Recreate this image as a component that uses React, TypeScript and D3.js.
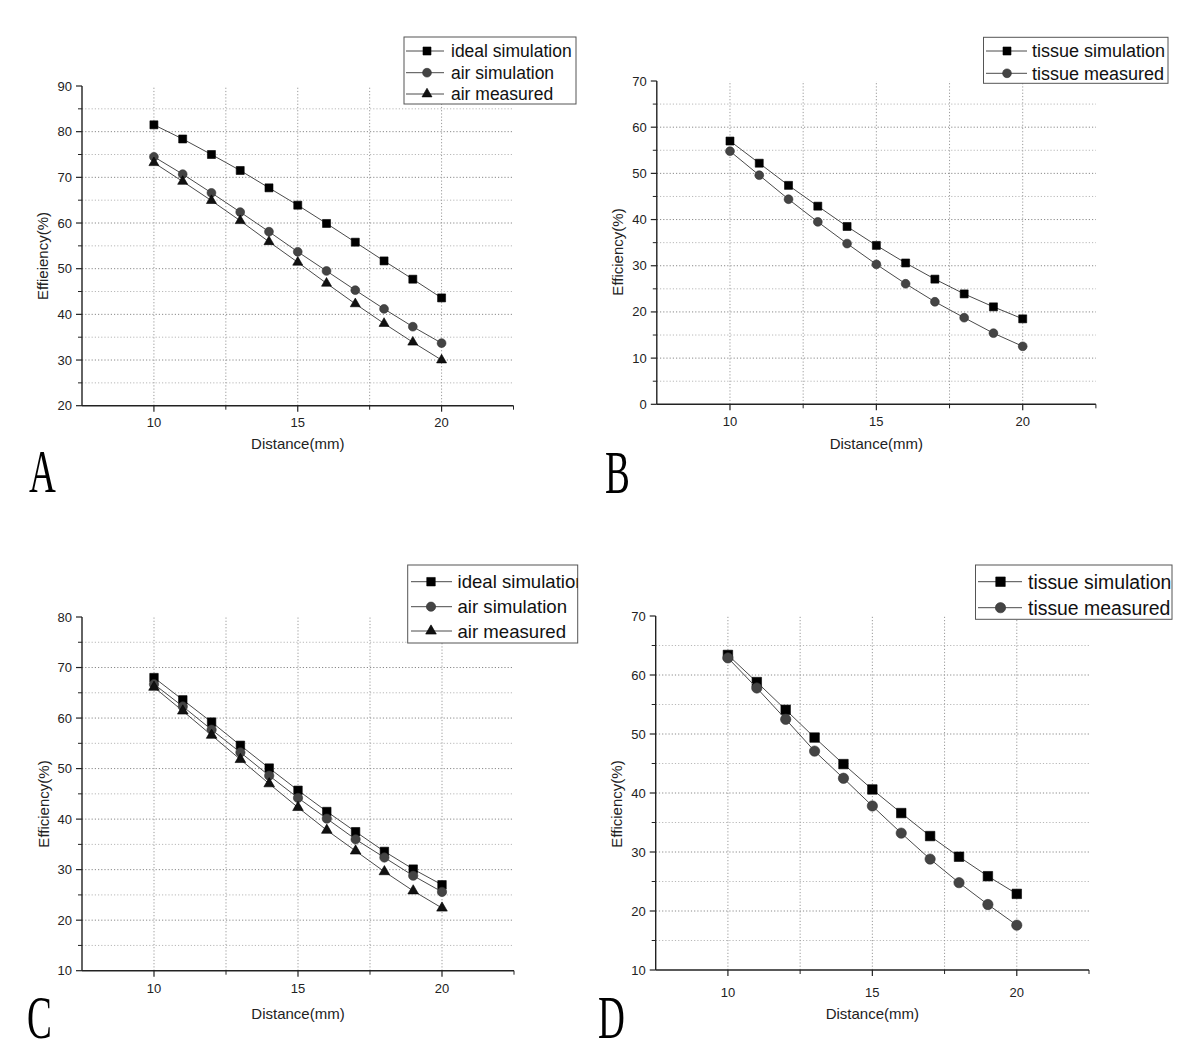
import React from "react";
import * as d3 from "d3";

const distance = [10, 11, 12, 13, 14, 15, 16, 17, 18, 19, 20];

const aIdealSim = [81.5, 78.4, 75.0, 71.5, 67.7, 63.9, 59.9, 55.8, 51.7, 47.7, 43.6];
const aAirSim = [74.5, 70.7, 66.6, 62.4, 58.1, 53.7, 49.5, 45.3, 41.2, 37.3, 33.7];
const aAirMeas = [73.2, 69.1, 64.9, 60.5, 55.9, 51.4, 46.8, 42.3, 38.0, 33.9, 30.0];

const bTissueSim = [57.0, 52.2, 47.4, 42.9, 38.5, 34.4, 30.6, 27.1, 23.9, 21.1, 18.5];
const bTissueMeas = [54.8, 49.6, 44.4, 39.5, 34.8, 30.3, 26.1, 22.2, 18.75, 15.4, 12.55];

const cIdealSim = [68.0, 63.6, 59.2, 54.6, 50.1, 45.7, 41.5, 37.5, 33.6, 30.1, 27.0];
const cAirSim = [66.7, 62.3, 57.7, 53.2, 48.6, 44.2, 40.1, 36.0, 32.4, 28.8, 25.6];
const cAirMeas = [66.1, 61.4, 56.6, 51.8, 47.0, 42.3, 37.8, 33.7, 29.6, 25.8, 22.4];

const dTissueSim = [63.4, 58.8, 54.1, 49.4, 44.9, 40.6, 36.6, 32.7, 29.2, 25.9, 22.9];
const dTissueMeas = [62.9, 57.8, 52.5, 47.1, 42.5, 37.8, 33.2, 28.8, 24.8, 21.1, 17.6];

const xDomain = [7.5, 22.5];
const xMajorTicks = [10, 15, 20];
const xMinorTicks = [12.5, 17.5, 22.5];
const aYTicks = [20, 30, 40, 50, 60, 70, 80, 90];
const bYTicks = [0, 10, 20, 30, 40, 50, 60, 70];
const cYTicks = [10, 20, 30, 40, 50, 60, 70, 80];
const dYTicks = [10, 20, 30, 40, 50, 60, 70];

const xTitle = "Distance(mm)";

type Sym = "square" | "circle" | "triangle";
interface Series { name: string; values: number[]; sym: Sym }

const SYM_COLORS: Record<Sym, string> = { square: "#000", circle: "#444", triangle: "#111" };

const panels = [
  {
    id: "A",
    series: [
      { name: "ideal simulation", values: aIdealSim, sym: "square" },
      { name: "air simulation", values: aAirSim, sym: "circle" },
      { name: "air measured", values: aAirMeas, sym: "triangle" },
    ] as Series[],
    yTicks: aYTicks,
    yTitle: "Effieiency(%)",
    x0: 82, x1: 513.5, yTop: 86, yBot: 405.7,
    yTitleX: 43, yTitleY: 256, xTitleY: 449, xLabelY: 427,
    leg: { x: 404, y: 37, w: 172, h: 67, rows: [51, 72.7, 94], l0: 406, l1: 444, m: 427, t: 451, fs: 17.5 },
    mk: 8,
    letterX: 29, letterY: 492,
  },
  {
    id: "B",
    series: [
      { name: "tissue simulation", values: bTissueSim, sym: "square" },
      { name: "tissue measured", values: bTissueMeas, sym: "circle" },
    ] as Series[],
    yTicks: bYTicks,
    yTitle: "Efficiency(%)",
    x0: 656.8, x1: 1095.9, yTop: 81, yBot: 404.3,
    yTitleX: 618, yTitleY: 252, xTitleY: 449, xLabelY: 426,
    leg: { x: 983.5, y: 37.3, w: 184.5, h: 46, rows: [51, 73.3], l0: 986, l1: 1027, m: 1007, t: 1032, fs: 18 },
    mk: 8,
    letterX: 605, letterY: 493,
  },
  {
    id: "C",
    series: [
      { name: "ideal simulation", values: cIdealSim, sym: "square" },
      { name: "air simulation", values: cAirSim, sym: "circle" },
      { name: "air measured", values: cAirMeas, sym: "triangle" },
    ] as Series[],
    yTicks: cYTicks,
    yTitle: "Efficiency(%)",
    x0: 82, x1: 514, yTop: 617, yBot: 970.7,
    yTitleX: 44, yTitleY: 804, xTitleY: 1019, xLabelY: 993,
    leg: { x: 407.7, y: 565, w: 170, h: 78, rows: [581.7, 606.7, 631], l0: 411, l1: 452, m: 431, t: 457.5, fs: 18.6 },
    mk: 8.5,
    letterX: 27, letterY: 1038,
  },
  {
    id: "D",
    series: [
      { name: "tissue simulation", values: dTissueSim, sym: "square" },
      { name: "tissue measured", values: dTissueMeas, sym: "circle" },
    ] as Series[],
    yTicks: dYTicks,
    yTitle: "Efficiency(%)",
    x0: 655.7, x1: 1089, yTop: 616, yBot: 970,
    yTitleX: 617, yTitleY: 804, xTitleY: 1019, xLabelY: 997,
    leg: { x: 975.5, y: 565, w: 196.5, h: 54.3, rows: [581.7, 607.7], l0: 978, l1: 1022, m: 1000.5, t: 1028, fs: 19.4 },
    mk: 9.5,
    letterX: 598, letterY: 1038,
  },
];

function symPath(sym: Sym, s: number): string {
  if (sym === "square") return d3.symbol().type(d3.symbolSquare).size(s * s)() as string;
  if (sym === "circle") return d3.symbol().type(d3.symbolCircle).size(Math.PI * (s / 2 + 0.4) * (s / 2 + 0.4))() as string;
  const a = s * 1.25;
  return d3.symbol().type(d3.symbolTriangle).size((Math.sqrt(3) / 4) * a * a)() as string;
}

const FONT = "'Liberation Sans', Arial, Helvetica, sans-serif";

function Panel({ p }: { p: (typeof panels)[number] }) {
  const x = d3.scaleLinear().domain(xDomain).range([p.x0, p.x1]);
  const yMin = p.yTicks[0];
  const yMax = p.yTicks[p.yTicks.length - 1];
  const y = d3.scaleLinear().domain([yMin, yMax]).range([p.yBot, p.yTop]);
  const yMinor = d3.range(yMin + 5, yMax, 10);
  const hGrid = d3.range(yMin + 5, yMax, 5);
  const vGrid = [10, 12.5, 15, 17.5, 20];
  const line = d3
    .line<number>()
    .x((_, i) => x(distance[i]))
    .y((v) => y(v));
  const clipId = `legclip-${p.id}`;
  return (
    <g>
      {/* grid */}
      {hGrid.map((v) => (
        <line
          key={`h${v}`}
          x1={p.x0}
          x2={p.x1}
          y1={y(v)}
          y2={y(v)}
          stroke={v % 10 === 0 ? "#8a8a8a" : "#b8b8b8"}
          strokeWidth={1}
          strokeDasharray="1.2,2"
        />
      ))}
      {vGrid.map((v) => (
        <line
          key={`v${v}`}
          x1={x(v)}
          x2={x(v)}
          y1={p.yBot}
          y2={p.yTop}
          stroke="#9a9a9a"
          strokeWidth={1}
          strokeDasharray="1.2,2"
        />
      ))}
      {/* axes */}
      <line x1={p.x0} x2={p.x0} y1={p.yBot} y2={p.yTop} stroke="#222" strokeWidth={1.4} />
      <line x1={p.x0} x2={p.x1} y1={p.yBot} y2={p.yBot} stroke="#222" strokeWidth={1.4} />
      {p.yTicks.map((v) => (
        <g key={`yt${v}`}>
          <line x1={p.x0 - 6} x2={p.x0} y1={y(v)} y2={y(v)} stroke="#222" strokeWidth={1.2} />
          <text
            x={p.x0 - 10}
            y={y(v) + 4.5}
            textAnchor="end"
            fontFamily={FONT}
            fontSize={13}
            fill="#222"
          >
            {v}
          </text>
        </g>
      ))}
      {yMinor.map((v) => (
        <line key={`ym${v}`} x1={p.x0 - 4} x2={p.x0} y1={y(v)} y2={y(v)} stroke="#222" strokeWidth={1} />
      ))}
      {xMajorTicks.map((v) => (
        <g key={`xt${v}`}>
          <line x1={x(v)} x2={x(v)} y1={p.yBot} y2={p.yBot + 6} stroke="#222" strokeWidth={1.2} />
          <text x={x(v)} y={p.xLabelY} textAnchor="middle" fontFamily={FONT} fontSize={13} fill="#222">
            {v}
          </text>
        </g>
      ))}
      {xMinorTicks.map((v) => (
        <line key={`xm${v}`} x1={x(v)} x2={x(v)} y1={p.yBot} y2={p.yBot + 4} stroke="#222" strokeWidth={1} />
      ))}
      {/* titles */}
      <text
        x={(p.x0 + p.x1) / 2 + (x(15) - (p.x0 + p.x1) / 2)}
        y={p.xTitleY}
        textAnchor="middle"
        fontFamily={FONT}
        fontSize={15}
        fill="#222"
      >
        {xTitle}
      </text>
      <text
        transform={`translate(${p.yTitleX + 5},${p.yTitleY}) rotate(-90)`}
        textAnchor="middle"
        fontFamily={FONT}
        fontSize={15}
        fill="#222"
      >
        {p.yTitle}
      </text>
      {/* series */}
      {p.series.map((s) => (
        <g key={s.name}>
          <path d={line(s.values) as string} fill="none" stroke="#4a4a4a" strokeWidth={1} />
          {s.values.map((v, i) => (
            <path
              key={i}
              d={symPath(s.sym, p.mk)}
              transform={`translate(${x(distance[i])},${y(v)})`}
              fill={SYM_COLORS[s.sym]}
              stroke={s.sym === "circle" ? "#333" : "#000"}
              strokeWidth={0.6}
            />
          ))}
        </g>
      ))}
      {/* legend */}
      <clipPath id={clipId}>
        <rect x={p.leg.x} y={p.leg.y - 2} width={p.leg.w} height={p.leg.h + 4} />
      </clipPath>
      <rect
        x={p.leg.x}
        y={p.leg.y}
        width={p.leg.w}
        height={p.leg.h}
        fill="#fff"
        stroke="#555"
        strokeWidth={1}
      />
      <g clipPath={`url(#${clipId})`}>
        {p.series.map((s, i) => (
          <g key={`leg${s.name}`}>
            <line
              x1={p.leg.l0}
              x2={p.leg.l1}
              y1={p.leg.rows[i]}
              y2={p.leg.rows[i]}
              stroke="#4a4a4a"
              strokeWidth={1}
            />
            <path
              d={symPath(s.sym, p.mk)}
              transform={`translate(${p.leg.m},${p.leg.rows[i]})`}
              fill={SYM_COLORS[s.sym]}
              stroke={s.sym === "circle" ? "#333" : "#000"}
              strokeWidth={0.6}
            />
            <text
              x={p.leg.t}
              y={p.leg.rows[i] + p.leg.fs * 0.36}
              fontFamily={FONT}
              fontSize={p.leg.fs}
              fill="#111"
            >
              {s.name}
            </text>
          </g>
        ))}
      </g>
      {/* panel letter */}
      <text
        transform={`translate(${p.letterX},${p.letterY}) scale(0.6,1)`}
        fontFamily="'Liberation Serif', 'DejaVu Serif', serif"
        fontSize={62}
        fill="#000"
      >
        {p.id}
      </text>
    </g>
  );
}

export default function App() {
  return (
    <div style={{ position: "absolute", left: 0, top: 0 }}>
      <svg width={1200} height={1059} viewBox="0 0 1200 1059" style={{ display: "block", background: "#fff" }}>
        <rect width={1200} height={1059} fill="#fff" />
        {panels.map((p) => (
          <Panel key={p.id} p={p} />
        ))}
      </svg>
    </div>
  );
}
